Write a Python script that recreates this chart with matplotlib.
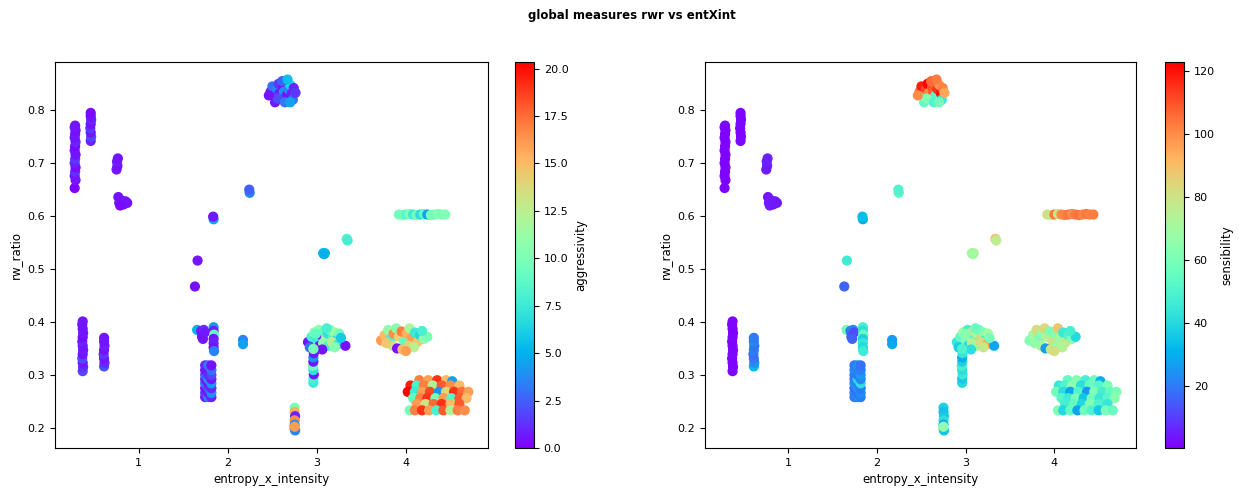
import matplotlib
matplotlib.use("Agg")
import matplotlib.pyplot as plt
import numpy as np

# ---------------- data ----------------
# entropy_x_intensity, rw_ratio, aggressivity, sensibility (one entry per point)
entropy_x_intensity = [
    # cluster near 0.28 (upper column)
    0.28, 0.29, 0.28, 0.285, 0.29, 0.28, 0.285, 0.29, 0.28, 0.285, 0.29, 0.28, 0.285, 0.29, 0.28, 0.285,
    # cluster near 0.46
    0.46, 0.465, 0.46, 0.455, 0.46, 0.465, 0.46, 0.46,
    # cluster near 0.76 (0.7)
    0.75, 0.76, 0.755, 0.765,
    # cluster near 0.8 (0.63)
    0.77, 0.78, 0.80, 0.83, 0.85, 0.87, 0.79,
    # column near 0.37 (lower)
    0.37, 0.375, 0.37, 0.365, 0.37, 0.375, 0.37, 0.365, 0.37, 0.375, 0.37, 0.365, 0.37,
    # column near 0.61
    0.61, 0.615, 0.61, 0.605, 0.61, 0.615, 0.61, 0.61,
    # single points
    1.66, 1.63, 1.84, 1.835, 2.245, 2.24,
    # cluster near 1.7-1.84 (0.37)
    1.655, 1.70, 1.72, 1.73, 1.71, 1.74, 1.72,
    1.84, 1.84, 1.845, 1.84, 1.84, 1.84, 1.845,
    # near 2.17
    2.17, 2.17,
    # block near 1.78 (0.26-0.32)
    1.745, 1.745, 1.745, 1.745, 1.745, 1.745, 1.745, 1.745,
    1.78, 1.78, 1.78, 1.78, 1.78, 1.78, 1.78, 1.78,
    1.815, 1.815, 1.815, 1.815, 1.815, 1.815, 1.815, 1.815,
    # top blob near 2.6
    2.48, 2.50, 2.52, 2.55, 2.57, 2.58, 2.60, 2.62, 2.63, 2.65, 2.66, 2.68,
    2.70, 2.72, 2.73, 2.74, 2.53, 2.56, 2.64, 2.70, 2.61, 2.46, 2.76, 2.67,
    # near 3.08 / 3.34
    3.07, 3.09, 3.08, 3.335, 3.345,
    # horizontal line at 0.603
    3.92, 3.96, 4.00, 4.04, 4.08, 4.12, 4.16, 4.20, 4.24, 4.28, 4.32, 4.36, 4.40, 4.44,
    # blob near 3.1 (0.37)
    2.90, 2.94, 2.97, 3.00, 3.02, 3.05, 3.08, 3.10, 3.12, 3.15, 3.18, 3.20, 3.22,
    3.25, 3.03, 3.07, 3.13, 3.17, 3.06, 3.24, 3.32, 2.92, 2.99, 3.11, 3.20, 3.27,
    # tail near 2.96
    2.96, 2.96, 2.965, 2.96, 2.955, 2.96, 2.96, 2.965, 2.96,
    # blob near 4.0 (0.37)
    3.72, 3.76, 3.80, 3.83, 3.86, 3.89, 3.92, 3.95, 3.98, 4.01, 4.04, 4.07, 4.10,
    4.13, 4.16, 4.20, 4.24, 3.85, 3.90, 3.96, 4.03, 4.09, 4.00, 3.78, 4.18,
    # blob near 4.35 (0.26)
    4.15, 4.25, 4.35, 4.45, 4.52,
    4.05, 4.12, 4.20, 4.30, 4.40, 4.50, 4.60,
    4.02, 4.10, 4.18, 4.27, 4.37, 4.45, 4.54, 4.63, 4.70,
    4.08, 4.16, 4.24, 4.33, 4.42, 4.51, 4.60, 4.68,
    4.12, 4.22, 4.31, 4.40, 4.50, 4.60,
    4.04, 4.10, 4.18, 4.26, 4.34, 4.42, 4.50, 4.58, 4.66,
    # column near 2.75 (0.2)
    2.75, 2.75, 2.755, 2.75, 2.75, 2.745, 2.755, 2.75,
]

rw_ratio = [
    0.653, 0.668, 0.676, 0.684, 0.692, 0.700, 0.708, 0.716, 0.724, 0.732, 0.740, 0.748, 0.755, 0.762, 0.768, 0.771,
    0.742, 0.750, 0.758, 0.766, 0.774, 0.782, 0.789, 0.795,
    0.688, 0.695, 0.703, 0.709,
    0.636, 0.625, 0.630, 0.622, 0.628, 0.625, 0.620,
    0.307, 0.315, 0.323, 0.331, 0.339, 0.347, 0.355, 0.363, 0.371, 0.379, 0.387, 0.395, 0.401,
    0.316, 0.323, 0.331, 0.339, 0.347, 0.355, 0.363, 0.370,
    0.516, 0.467, 0.594, 0.599, 0.644, 0.650,
    0.385, 0.383, 0.378, 0.385, 0.372, 0.380, 0.368,
    0.390, 0.383, 0.376, 0.368, 0.360, 0.352, 0.345,
    0.366, 0.358,
    0.258, 0.266, 0.275, 0.284, 0.292, 0.300, 0.309, 0.318,
    0.258, 0.266, 0.275, 0.284, 0.292, 0.300, 0.309, 0.318,
    0.258, 0.266, 0.275, 0.284, 0.292, 0.300, 0.309, 0.318,
    0.835, 0.845, 0.827, 0.840, 0.850, 0.832, 0.822, 0.845, 0.835, 0.852, 0.828, 0.840,
    0.848, 0.832, 0.820, 0.842, 0.815, 0.822, 0.815, 0.815, 0.855, 0.828, 0.833, 0.858,
    0.530, 0.530, 0.528, 0.557, 0.554,
    0.603, 0.602, 0.603, 0.604, 0.603, 0.602, 0.603, 0.604, 0.603, 0.602, 0.603, 0.604, 0.603, 0.603,
    0.362, 0.372, 0.380, 0.365, 0.385, 0.375, 0.382, 0.368, 0.378, 0.385, 0.372, 0.380, 0.366,
    0.378, 0.355, 0.360, 0.355, 0.362, 0.348, 0.358, 0.355, 0.352, 0.378, 0.388, 0.352, 0.370,
    0.285, 0.293, 0.301, 0.309, 0.317, 0.325, 0.333, 0.341, 0.349,
    0.365, 0.375, 0.385, 0.368, 0.378, 0.388, 0.372, 0.382, 0.362, 0.378, 0.388, 0.370, 0.380,
    0.362, 0.375, 0.368, 0.372, 0.355, 0.350, 0.348, 0.355, 0.352, 0.345, 0.360, 0.383,
    0.290, 0.290, 0.290, 0.290, 0.288,
    0.280, 0.280, 0.280, 0.280, 0.280, 0.280, 0.280,
    0.268, 0.268, 0.268, 0.268, 0.268, 0.268, 0.268, 0.268, 0.268,
    0.256, 0.256, 0.256, 0.256, 0.256, 0.256, 0.256, 0.256,
    0.245, 0.245, 0.245, 0.245, 0.245, 0.245,
    0.233, 0.233, 0.233, 0.233, 0.233, 0.233, 0.233, 0.233, 0.233,
    0.238, 0.230, 0.222, 0.214, 0.206, 0.199, 0.195, 0.202,
]

aggressivity = [
    0.0, 0.6, 0.5, 1.2, 0.3, 0.8, 1.5, 0.4, 0.6, 0.2, 0.9, 0.5, 0.7, 0.3, 0.6, 0.5,
    0.8, 1.8, 0.6, 1.5, 0.4, 0.9, 0.5, 0.3,
    0.6, 0.4, 0.8, 0.5,
    0.5, 0.7, 0.4, 0.6, 0.8, 0.5, 0.3,
    1.8, 1.2, 0.6, 2.0, 0.4, 0.7, 0.5, 0.9, 0.3, 0.6, 0.4, 0.5, 0.6,
    2.0, 1.0, 0.6, 1.5, 0.4, 0.8, 0.5, 0.6,
    0.5, 0.4, 4.5, 0.6, 3.5, 2.5,
    5.0, 0.8, 0.5, 1.2, 0.4, 0.7, 0.6,
    4.0, 0.8, 9.0, 0.6, 1.0, 0.5, 3.5,
    3.5, 4.5,
    0.6, 1.5, 0.5, 3.0, 0.8, 2.5, 0.5, 1.0,
    3.5, 0.7, 2.0, 0.5, 4.0, 1.2, 0.6, 3.2,
    0.8, 3.8, 1.0, 4.2, 0.6, 1.8, 3.0, 0.5,
    0.6, 3.0, 0.4, 3.5, 1.5, 0.8, 2.8, 0.5, 4.0, 1.2, 0.6, 3.5,
    6.5, 0.9, 3.0, 1.0, 0.7, 2.0, 3.2, 4.5, 2.5, 0.5, 1.5, 5.5,
    5.2, 5.5, 5.0, 8.5, 7.8,
    9.5, 10.0, 8.5, 10.2, 7.5, 9.8, 6.8, 9.0, 4.5, 10.0, 9.5, 10.5, 9.8, 10.2,
    0.5, 8.0, 10.5, 7.5, 11.0, 0.8, 9.0, 12.0, 7.0, 10.0, 8.5, 11.5, 6.5,
    9.5, 0.6, 11.0, 8.0, 12.5, 0.5, 7.5, 0.4, 3.0, 9.0, 8.0, 10.5, 6.0,
    7.5, 8.0, 0.6, 7.0, 9.5, 0.5, 4.0, 0.7, 10.0,
    16.0, 15.0, 11.0, 8.0, 16.5, 10.5, 14.0, 17.0, 9.0, 15.5, 12.0, 16.0, 7.5,
    14.5, 6.5, 11.0, 10.0, 13.5, 0.4, 15.0, 14.0, 12.5, 16.0, 14.5, 8.0,
    17.0, 16.0, 19.0, 15.0, 4.5,
    19.5, 8.0, 17.0, 12.0, 18.0, 16.5, 15.0,
    20.35, 7.5, 16.0, 18.5, 4.0, 14.0, 19.0, 17.5, 16.0,
    9.0, 17.0, 19.0, 10.0, 16.0, 8.5, 18.0, 15.0,
    16.0, 13.0, 17.5, 19.0, 15.0, 18.0,
    10.0, 17.0, 19.0, 16.0, 8.0, 18.0, 12.0, 17.0, 16.5,
    10.0, 15.5, 1.0, 16.5, 4.0, 15.5, 3.5, 16.0,
]

sensibility = [
    1.2, 0.8, 1.5, 1.0, 2.0, 0.5, 1.3, 1.8, 0.9, 1.1, 1.6, 0.7, 1.4, 1.0, 1.9, 1.2,
    1.5, 2.0, 1.2, 1.0, 1.8, 2.2, 1.3, 1.0,
    5.0, 4.5, 6.0, 5.5,
    4.0, 5.0, 4.5, 3.5, 5.0, 4.0, 4.5,
    1.0, 1.5, 0.8, 1.2, 2.0, 1.0, 1.4, 0.9, 1.6, 1.1, 0.8, 1.3, 1.0,
    32, 24, 20, 18, 21, 19, 22, 20,
    46, 16, 30, 33, 52, 50,
    58, 20, 18, 22, 15, 12, 16,
    48, 42, 55, 38, 44, 40, 46,
    26, 28,
    20, 22, 18, 24, 21, 19, 23, 20,
    22, 19, 25, 21, 40, 20, 22, 24,
    21, 23, 20, 42, 22, 26, 21, 19,
    105, 118, 60, 112, 122.8, 100, 48, 110, 108, 104, 52, 115,
    98, 120, 45, 102, 55, 62, 50, 58, 106, 100, 95, 103,
    72, 74, 70, 90, 76,
    82, 78, 104, 80, 100, 102, 104, 100, 103, 105, 101, 104, 102, 103,
    45, 55, 70, 60, 48, 65, 80, 50, 72, 58, 85, 62, 44,
    70, 40, 75, 68, 82, 42, 95, 28, 38, 64, 56, 78, 60,
    40, 36, 45, 42, 48, 38, 30, 44, 50,
    62, 70, 82, 58, 66, 84, 75, 60, 80, 64, 88, 70, 45,
    78, 50, 62, 40, 72, 26, 80, 68, 74, 82, 66, 48,
    55, 62, 48, 58, 30,
    45, 50, 65, 42, 56, 52, 60,
    58, 42, 28, 50, 25, 62, 48, 55, 60,
    52, 46, 60, 35, 58, 45, 52, 64,
    48, 55, 40, 62, 50, 44,
    62, 40, 55, 28, 58, 50, 36, 60, 56,
    38, 34, 36, 42, 30, 70, 35, 66,
]

title = "global measures rwr vs entXint"

# ---------------- figure ----------------
W, H = 1239, 490
fig = plt.figure(figsize=(W / 100, H / 100), dpi=100)
fs_tick = 8
fs_lab = 8.5
plt.rcParams['font.size'] = fs_tick

bot = 1 - 448 / H
hgt = (448 - 62) / H
ax1 = fig.add_axes([55 / W, bot, 433 / W, hgt])
cax1 = fig.add_axes([515 / W, bot, 19 / W, hgt])
ax2 = fig.add_axes([705 / W, bot, 431 / W, hgt])
cax2 = fig.add_axes([1165 / W, bot, 19 / W, hgt])

x = np.array(entropy_x_intensity)
y = np.array(rw_ratio)
a = np.array(aggressivity)
s = np.array(sensibility)

msize = 40
sc1 = ax1.scatter(x, y, c=a, cmap='rainbow', s=msize, vmin=a.min(), vmax=a.max())
cb1 = fig.colorbar(sc1, cax=cax1)
cb1.set_label('aggressivity', fontsize=fs_lab)

sc2 = ax2.scatter(x, y, c=s, cmap='rainbow', s=msize, vmin=s.min(), vmax=s.max())
cb2 = fig.colorbar(sc2, cax=cax2)
cb2.set_label('sensibility', fontsize=fs_lab)

for ax in (ax1, ax2):
    ax.set_xlabel('entropy_x_intensity', fontsize=fs_lab)
    ax.set_ylabel('rw_ratio', fontsize=fs_lab)
    ax.tick_params(labelsize=fs_tick)
for cb in (cb1, cb2):
    cb.ax.tick_params(labelsize=fs_tick)

fig.text(0.51, 0.969, title, ha='center', va='center', fontsize=fs_lab, fontweight='bold')

fig.savefig('out.png', dpi=100)
